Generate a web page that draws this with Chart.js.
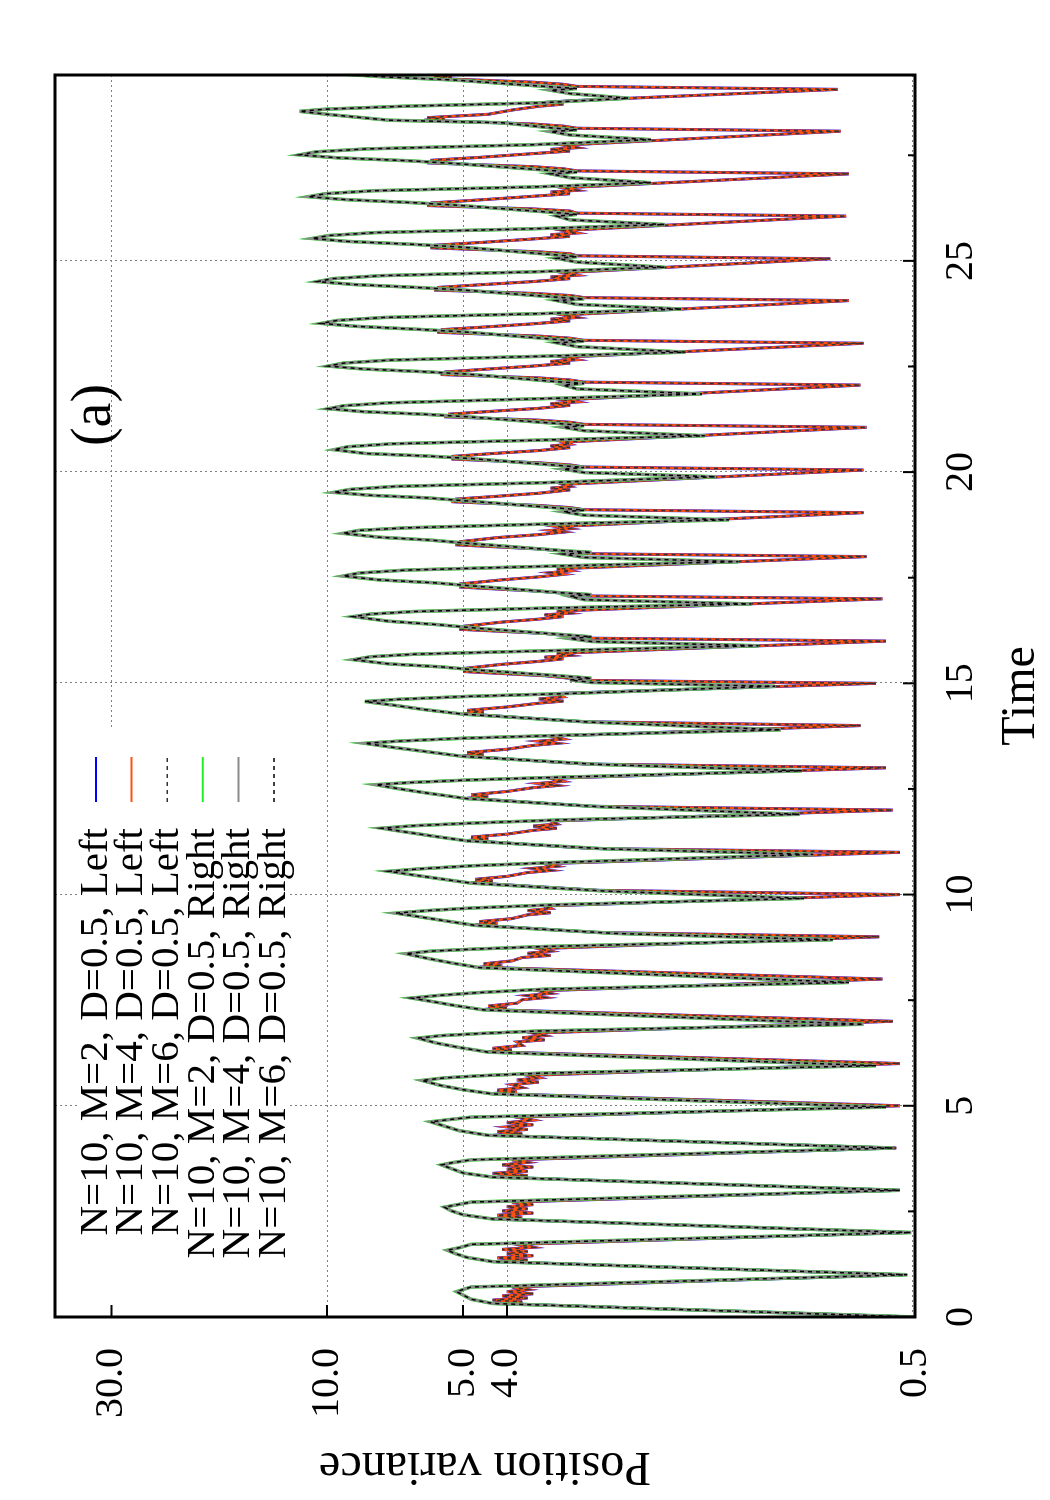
<!DOCTYPE html>
<html>
<head>
<meta charset="utf-8">
<script src="https://cdn.jsdelivr.net/npm/chart.js@4.4.1/dist/chart.umd.min.js"></script>
<style>
  html, body { margin: 0; padding: 0; background: #fff; }
  body { width: 1050px; height: 1500px; position: relative; overflow: hidden; }
  /* the figure is drawn landscape and turned a quarter left, like the original */
  #turn { position: absolute; left: 0; top: 0; width: 1500px; height: 1050px;
          transform-origin: 0 0; transform: translate(0, 1500px) rotate(-90deg); }
</style>
</head>
<body>
<div id="turn"><canvas id="chart" width="1500" height="1050"></canvas></div>
<script>
const xTickValues = [0, 5, 10, 15, 20, 25];
const xMinorTicks = [2.5, 7.5, 12.5, 17.5, 22.5, 27.5];
const yTickValues = [0.5, 4, 5, 10, 30];

const seriesLabels = [
  'N=10, M=2, D=0.5, Left',
  'N=10, M=4, D=0.5, Left',
  'N=10, M=6, D=0.5, Left',
  'N=10, M=2, D=0.5, Right',
  'N=10, M=4, D=0.5, Right',
  'N=10, M=6, D=0.5, Right'
];

// [time, variance], left well
const leftCurve = [
  [0.00,0.50],[0.32,4.2],[0.36,3.7],[0.40,4.3],[0.45,3.6],[0.50,4.1],[0.55,3.5],[0.60,4.0],[0.65,3.6],[0.71,3.9],
  [1.00,0.53],[1.31,4.2],[1.35,3.6],[1.40,4.2],[1.45,3.5],[1.50,4.0],[1.55,3.6],[1.60,4.1],[1.65,3.5],[1.72,3.8],
  [2.00,0.52],[2.32,4.3],[2.36,3.7],[2.41,4.2],[2.46,3.5],[2.51,4.1],[2.56,3.6],[2.61,4.0],[2.66,3.5],[2.72,3.9],
  [3.00,0.54],[3.31,4.2],[3.35,3.6],[3.40,4.3],[3.45,3.6],[3.50,4.0],[3.55,3.5],[3.60,4.1],[3.66,3.6],[3.72,3.9],
  [4.00,0.55],[4.30,4.3],[4.34,3.7],[4.39,4.2],[4.44,3.6],[4.50,4.0],[4.55,3.5],[4.60,4.0],[4.66,3.5],[4.73,3.8],
  [5.00,0.54],[5.29,4.3],[5.33,3.8],[5.37,4.2],[5.43,3.7],[5.50,3.9],[5.56,3.4],[5.61,3.8],[5.66,3.4],[5.72,3.6],
  [6.00,0.54],[6.28,4.4],[6.32,3.9],[6.36,4.3],[6.43,3.7],[6.51,3.8],[6.56,3.3],[6.61,3.7],[6.66,3.3],[6.72,3.5],
  [7.00,0.56],[7.28,4.5],[7.32,4.0],[7.36,4.4],[7.43,3.8],[7.51,3.7],[7.56,3.3],[7.61,3.6],[7.66,3.2],[7.72,3.4],
  [8.00,0.59],[8.28,4.6],[8.32,4.1],[8.36,4.5],[8.43,3.9],[8.51,3.7],[8.56,3.2],[8.61,3.6],[8.66,3.2],[8.72,3.4],
  [9.00,0.60],[9.10,2.5],[9.28,4.7],[9.32,4.2],[9.36,4.6],[9.43,3.9],[9.52,3.6],[9.57,3.2],[9.62,3.6],[9.67,3.2],[9.73,3.3],
  [10.00,0.54],[10.10,2.5],[10.28,4.8],[10.32,4.3],[10.36,4.7],[10.43,4.0],[10.52,3.6],[10.57,3.2],[10.62,3.5],[10.67,3.1],[10.73,3.3],
  [11.00,0.54],[11.09,2.6],[11.28,4.9],[11.32,4.4],[11.36,4.8],[11.43,4.0],[11.52,3.5],[11.57,3.1],[11.62,3.5],[11.67,3.1],[11.74,3.2],
  [12.00,0.56],[12.09,2.6],[12.28,4.9],[12.32,4.4],[12.36,4.8],[12.44,4.0],[12.53,3.5],[12.58,3.1],[12.63,3.4],[12.68,3.0],[12.75,3.2],
  [13.00,0.58],[13.09,2.7],[13.28,5.0],[13.32,4.5],[13.36,4.9],[13.44,4.0],[13.53,3.5],[13.58,3.1],[13.63,3.4],[13.68,3.0],[13.75,3.2],
  [14.00,0.66],[14.09,2.7],[14.28,5.0],[14.32,4.5],[14.36,4.9],[14.44,4.0],[14.53,3.4],[14.58,3.0],[14.63,3.4],[14.68,3.0],[14.76,3.1],
  [15.00,0.61],[15.07,2.7],[15.12,2.9],[15.18,3.3],[15.28,5.0],[15.32,4.6],[15.35,5.0],[15.45,4.1],[15.52,3.4],[15.58,3.0],[15.62,3.3],[15.66,2.9],[15.71,3.1],
  [16.00,0.58],[16.07,2.7],[16.12,2.9],[16.18,3.3],[16.28,5.1],[16.32,4.6],[16.35,5.0],[16.45,4.1],[16.52,3.4],[16.58,3.0],[16.62,3.3],[16.66,2.9],[16.71,3.1],
  [17.00,0.59],[17.07,2.8],[17.12,2.9],[17.18,3.4],[17.28,5.1],[17.32,4.7],[17.35,5.1],[17.45,4.1],[17.52,3.4],[17.58,3.0],[17.62,3.2],[17.66,2.9],[17.71,3.1],
  [18.00,0.64],[18.07,2.8],[18.12,2.9],[18.18,3.4],[18.28,5.2],[18.32,4.7],[18.35,5.1],[18.45,4.2],[18.52,3.4],[18.58,3.0],[18.62,3.2],[18.66,2.9],[18.71,3.1],
  [19.04,0.65],[19.11,2.7],[19.16,2.9],[19.21,3.4],[19.30,5.3],[19.33,4.8],[19.36,5.2],[19.42,4.3],[19.50,3.4],[19.58,2.9],[19.62,3.2],[19.66,2.9],[19.71,3.0],
  [20.05,0.65],[20.12,2.7],[20.17,2.9],[20.22,3.4],[20.31,5.3],[20.34,4.8],[20.37,5.3],[20.44,4.3],[20.51,3.4],[20.58,2.9],[20.62,3.2],[20.66,2.9],[20.71,3.0],
  [21.06,0.64],[21.13,2.7],[21.18,2.9],[21.23,3.4],[21.31,5.5],[21.34,5.0],[21.37,5.4],[21.44,4.3],[21.51,3.4],[21.58,2.9],[21.62,3.2],[21.66,2.8],[21.71,3.0],
  [22.06,0.66],[22.13,2.7],[22.18,2.9],[22.23,3.4],[22.31,5.6],[22.34,5.0],[22.37,5.5],[22.44,4.4],[22.51,3.5],[22.58,2.9],[22.62,3.2],[22.66,2.8],[22.72,3.0],
  [23.05,0.65],[23.12,2.7],[23.17,2.9],[23.22,3.4],[23.31,5.7],[23.34,5.1],[23.37,5.6],[23.44,4.4],[23.51,3.5],[23.58,2.9],[23.62,3.2],[23.66,2.8],[23.72,3.0],
  [24.06,0.70],[24.13,2.7],[24.18,2.9],[24.23,3.5],[24.31,5.8],[24.34,5.2],[24.37,5.7],[24.44,4.5],[24.51,3.5],[24.58,2.9],[24.62,3.2],[24.66,2.8],[24.72,3.0],
  [25.05,0.77],[25.12,2.8],[25.17,2.9],[25.22,3.5],[25.31,5.9],[25.34,5.3],[25.37,5.8],[25.44,4.5],[25.51,3.6],[25.58,2.9],[25.62,3.2],[25.66,2.8],[25.72,3.0],
  [26.06,0.71],[26.13,2.8],[26.18,2.9],[26.23,3.5],[26.31,6.0],[26.34,5.4],[26.37,5.9],[26.45,4.5],[26.52,3.6],[26.59,2.9],[26.63,3.2],[26.67,2.8],[26.73,3.0],
  [27.06,0.70],[27.13,2.8],[27.18,3.0],[27.23,3.5],[27.32,6.0],[27.35,5.4],[27.38,5.9],[27.45,4.6],[27.53,3.6],[27.60,2.9],[27.64,3.2],[27.68,2.8],[27.74,3.0],
  [28.07,0.73],[28.14,2.8],[28.19,3.0],[28.24,3.5],[28.33,6.1],[28.36,5.5],[28.39,6.0],[28.47,4.4],[28.57,3.9],[28.66,3.4],[28.71,3.0],[28.75,3.3],[28.79,2.9],
  [29.06,0.74],[29.13,2.8],[29.18,3.0],[29.23,3.5],[29.32,5.8],[29.35,5.3],[29.38,5.8],[29.45,4.5]
];

// [time, variance], right well
const rightCurve = [
  [0.00,0.50],[0.32,4.3],[0.42,4.8],[0.52,5.0],[0.60,5.17],[0.65,5.0],[0.71,4.8],
  [1.00,0.52],[1.31,4.3],[1.41,4.9],[1.50,5.2],[1.58,5.42],[1.64,5.1],[1.72,4.8],
  [2.00,0.51],[2.32,4.3],[2.42,5.0],[2.51,5.3],[2.60,5.5],[2.65,5.2],[2.72,4.8],
  [3.00,0.54],[3.31,4.3],[3.41,5.0],[3.51,5.3],[3.60,5.58],[3.65,5.3],[3.72,4.8],
  [4.00,0.56],[4.30,4.4],[4.41,5.1],[4.52,5.5],[4.62,5.9],[4.67,5.4],[4.73,4.8],
  [4.97,0.58],[5.28,4.3],[5.38,5.0],[5.48,5.6],[5.60,6.17],[5.66,5.5],[5.71,4.6],[5.77,3.4],
  [5.95,0.61],[6.27,4.4],[6.38,5.1],[6.48,5.7],[6.60,6.3],[6.66,5.6],[6.71,4.6],[6.77,3.4],
  [6.93,0.65],[7.27,4.5],[7.37,5.2],[7.46,5.8],[7.55,6.5],[7.61,5.7],[7.68,4.6],[7.76,3.3],
  [7.92,0.70],[8.27,4.6],[8.38,5.3],[8.49,6.0],[8.60,6.7],[8.66,5.9],[8.71,4.7],[8.77,3.3],
  [8.93,0.76],[9.08,2.3],[9.27,4.7],[9.38,5.5],[9.48,6.3],[9.56,7.05],[9.62,6.0],[9.68,4.8],[9.76,3.1],
  [9.91,0.88],[10.08,2.4],[10.27,4.8],[10.37,5.6],[10.47,6.5],[10.55,7.3],[10.61,6.2],[10.68,4.8],[10.76,3.1],
  [10.95,0.84],[11.08,2.4],[11.27,4.9],[11.38,5.8],[11.48,6.7],[11.57,7.57],[11.63,6.4],[11.69,4.8],[11.77,3.0],
  [11.90,0.90],[12.08,2.5],[12.27,4.9],[12.39,5.9],[12.50,6.9],[12.60,7.8],[12.65,6.6],[12.71,4.9],[12.78,3.0],
  [12.93,0.89],[13.08,2.5],[13.27,5.0],[13.38,6.0],[13.48,7.1],[13.58,8.25],[13.63,7.0],[13.70,5.0],[13.77,3.0],
  [13.90,0.99],[14.08,2.6],[14.27,5.0],[14.38,6.1],[14.48,7.1],[14.57,8.25],[14.62,7.0],[14.69,4.9],[14.76,2.9],
  [14.93,1.02],[15.02,2.6],[15.08,2.9],[15.12,2.6],[15.16,2.9],[15.31,4.6],[15.39,5.6],[15.46,7.3],[15.56,8.75],[15.63,8.0],[15.69,6.4],[15.77,3.3],
  [15.89,1.11],[15.99,2.6],[16.06,2.9],[16.10,2.6],[16.14,2.9],[16.30,4.6],[16.39,5.7],[16.47,7.3],[16.58,8.75],[16.64,8.0],[16.70,6.4],[16.78,3.3],
  [16.88,1.15],[16.98,2.7],[17.06,2.9],[17.10,2.6],[17.14,3.0],[17.30,4.7],[17.38,5.8],[17.45,7.7],[17.54,9.22],[17.61,8.5],[17.68,6.7],[17.77,3.3],
  [17.88,1.23],[17.98,2.7],[18.06,3.0],[18.10,2.6],[18.14,3.0],[18.30,4.7],[18.39,5.9],[18.46,7.7],[18.55,9.22],[18.62,8.5],[18.68,6.7],[18.77,3.3],
  [18.87,1.29],[18.98,2.7],[19.06,3.0],[19.10,2.7],[19.14,3.0],[19.31,4.8],[19.39,6.0],[19.45,8.0],[19.52,9.66],[19.59,8.9],[19.66,7.1],[19.75,3.3],
  [19.89,1.38],[19.99,2.7],[20.07,3.0],[20.11,2.7],[20.15,3.0],[20.32,4.8],[20.38,6.0],[20.44,8.2],[20.53,9.66],[20.60,9.0],[20.67,7.2],[20.76,3.3],
  [20.86,1.46],[20.98,2.7],[21.06,3.0],[21.10,2.7],[21.14,3.0],[21.31,4.9],[21.37,6.1],[21.43,8.3],[21.50,9.94],[21.57,9.2],[21.64,7.3],[21.74,3.3],
  [21.85,1.48],[21.97,2.8],[22.06,3.0],[22.10,2.7],[22.14,3.1],[22.32,4.9],[22.38,6.2],[22.44,8.3],[22.51,9.94],[22.58,9.2],[22.65,7.3],[22.74,3.4],
  [22.84,1.61],[22.97,2.8],[23.06,3.1],[23.10,2.7],[23.14,3.1],[23.32,5.0],[23.38,6.3],[23.45,8.6],[23.52,10.3],[23.59,9.5],[23.66,7.5],[23.75,3.4],
  [23.86,1.64],[23.97,2.8],[24.06,3.1],[24.10,2.7],[24.14,3.1],[24.31,5.0],[24.37,6.3],[24.44,8.7],[24.51,10.5],[24.58,9.7],[24.65,7.6],[24.74,3.5],
  [24.85,1.79],[24.97,2.8],[25.06,3.1],[25.10,2.8],[25.14,3.1],[25.33,5.1],[25.39,6.4],[25.46,9.0],[25.53,10.8],[25.60,9.9],[25.67,7.8],[25.76,3.5],
  [25.86,1.79],[25.97,2.9],[26.06,3.1],[26.10,2.8],[26.14,3.1],[26.32,5.2],[26.38,6.5],[26.45,9.1],[26.52,11.0],[26.59,10.1],[26.66,7.9],[26.75,3.5],
  [26.85,1.92],[26.97,2.9],[27.06,3.2],[27.10,2.8],[27.14,3.2],[27.31,5.3],[27.37,6.6],[27.44,9.5],[27.51,11.5],[27.58,10.6],[27.65,8.2],[27.75,3.5],
  [27.87,1.92],[27.98,2.9],[28.06,3.2],[28.10,2.8],[28.15,3.2],[28.27,4.1],[28.33,7.3],[28.46,9.8],[28.54,11.5],[28.59,10.1],[28.66,6.8],[28.74,3.4],
  [28.85,2.15],[28.96,2.9],[29.04,3.2],[29.08,2.8],[29.12,3.2],[29.28,5.2],[29.36,7.6],[29.44,9.8]
];

const toPoints = rows => rows.map(([t, v]) => ({ x: t, y: v }));

const styles = [
  { color: '#0000ff', width: 3 },
  { color: '#ff5014', width: 2.5 },
  { color: '#333333', width: 1.5, dash: [4, 4] },
  { color: '#22ee22', width: 3.5 },
  { color: '#8a8a8a', width: 3 },
  { color: '#000000', width: 1.5, dash: [4, 4] }
];

const datasets = seriesLabels.map((label, i) => ({
  label,
  data: toPoints(i < 3 ? leftCurve : rightCurve),
  borderColor: styles[i].color,
  borderWidth: styles[i].width,
  borderDash: styles[i].dash,
  pointRadius: 0,
  tension: 0,
  order: 6 - i
}));

// gnuplot-like frame: dotted grid, inward ticks, opaque key, panel tag
const frame = {
  id: 'frame',
  beforeDatasetsDraw(chart) {
    const { ctx, chartArea: a, scales: { x, y } } = chart;
    ctx.save();
    ctx.strokeStyle = '#808080';
    ctx.lineWidth = 1;
    ctx.setLineDash([2, 3]);
    ctx.beginPath();
    xTickValues.forEach(v => {
      const px = Math.round(x.getPixelForValue(v)) + 0.5;
      ctx.moveTo(px, a.top); ctx.lineTo(px, a.bottom);
    });
    yTickValues.forEach(v => {
      const py = Math.min(Math.round(y.getPixelForValue(v)) + 0.5, a.bottom - 2.5);
      ctx.moveTo(a.left, py); ctx.lineTo(a.right, py);
    });
    ctx.stroke();
    ctx.restore();
  },
  afterDatasetsDraw(chart) {
    const { ctx, chartArea: a, scales: { x, y } } = chart;
    ctx.save();
    ctx.fillStyle = '#fff';
    ctx.fillRect(a.left + 2, 77, 768 - a.left, 213);

    ctx.font = "41px 'Liberation Serif', 'Times New Roman', serif";
    ctx.textAlign = 'right';
    ctx.textBaseline = 'middle';
    ctx.fillStyle = '#000';
    chart.data.datasets.forEach((ds, i) => {
      const rowY = 96 + i * 35.6;
      ctx.fillText(ds.label, 672, rowY);
      ctx.strokeStyle = ds.borderColor;
      ctx.lineWidth = ds.borderDash ? 1.5 : 2;
      ctx.setLineDash(ds.borderDash || []);
      ctx.beginPath(); ctx.moveTo(698, rowY); ctx.lineTo(743, rowY); ctx.stroke();
    });
    ctx.setLineDash([]);

    ctx.font = "56px 'Liberation Serif', 'Times New Roman', serif";
    ctx.textAlign = 'center';
    ctx.fillText('(a)', 1085, 95);

    ctx.strokeStyle = '#000';
    ctx.lineWidth = 3;
    ctx.strokeRect(a.left, a.top, a.right - a.left, a.bottom - a.top);
    ctx.lineWidth = 2;
    ctx.beginPath();
    xTickValues.forEach(v => {
      const px = x.getPixelForValue(v);
      ctx.moveTo(px, a.bottom); ctx.lineTo(px, a.bottom - 12);
    });
    xMinorTicks.forEach(v => {
      const px = x.getPixelForValue(v);
      ctx.moveTo(px, a.bottom); ctx.lineTo(px, a.bottom - 7);
    });
    yTickValues.forEach(v => {
      const py = y.getPixelForValue(v);
      ctx.moveTo(a.left, py); ctx.lineTo(a.left + 12, py);
    });
    ctx.stroke();
    ctx.restore();
  }
};

Chart.defaults.font.family = "'Liberation Serif', 'Times New Roman', serif";
Chart.defaults.color = '#000';

new Chart(document.getElementById('chart'), {
  type: 'line',
  data: { datasets },
  options: {
    responsive: false,
    animation: false,
    events: [],
    layout: { padding: { top: 50, right: 75, left: 0, bottom: 0 } },
    plugins: { legend: { display: false }, tooltip: { enabled: false } },
    scales: {
      x: {
        type: 'linear',
        min: 0,
        max: 29.4,
        grid: { display: false, drawTicks: false },
        border: { display: false },
        ticks: { autoSkip: false, maxRotation: 0, padding: 22, font: { size: 40 },
                 callback: v => String(v) },
        afterBuildTicks: s => { s.ticks = xTickValues.map(v => ({ value: v })); },
        afterFit: s => { s.height = 135; },
        title: { display: true, text: 'Time', font: { size: 48 }, padding: { top: 0, bottom: 0 } }
      },
      y: {
        type: 'logarithmic',
        min: 0.5,
        max: 40,
        grid: { display: false, drawTicks: false },
        border: { display: false },
        ticks: { autoSkip: false, padding: 31, font: { size: 40 },
                 callback: v => Number(v).toFixed(1) },
        afterBuildTicks: s => { s.ticks = yTickValues.map(v => ({ value: v })); },
        afterFit: s => { s.width = 183; },
        title: { display: true, text: 'Position variance', font: { size: 48 }, padding: { top: 6, bottom: 0 } }
      }
    }
  },
  plugins: [frame]
});
</script>
</body>
</html>
